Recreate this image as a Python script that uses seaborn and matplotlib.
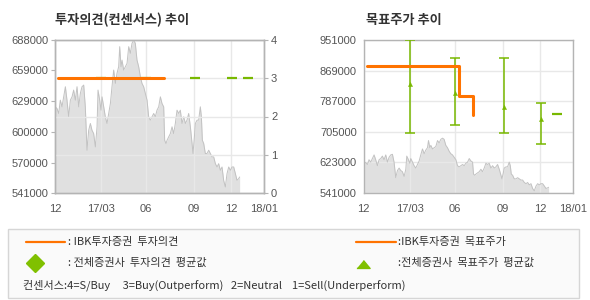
import numpy as np
import matplotlib
matplotlib.use("Agg")
import matplotlib.pyplot as plt
import seaborn as sns
from matplotlib.patches import Rectangle
from matplotlib.lines import Line2D

# ---------------- data ----------------
price_idx = [0.0, 2.5, 4.6, 6.6, 8.7, 10.8, 12.9, 14.9, 17.0, 19.1, 21.2, 23.2, 25.3, 27.4, 29.5,
             31.5, 33.6, 35.7, 37.7, 39.0, 39.8, 41.9, 44.0, 46.0, 48.1, 50.2, 52.3, 53.5, 55.6,
             57.2, 58.5, 60.6, 62.6, 64.7, 66.8, 68.9, 70.9, 73.0, 75.1, 77.1, 79.2, 80.5, 82.1,
             83.4, 85.4, 87.5, 89.6, 91.7, 93.7, 95.8, 97.9, 99.9, 102.0, 104.1, 106.2, 108.2,
             110.3, 112.4, 114.5, 116.5, 118.6, 120.7, 122.8, 124.8, 126.9, 129.0, 131.1, 133.1,
             135.2, 136.4, 138.1, 139.4, 141.4, 143.5, 145.6, 147.6, 149.7, 151.8, 153.9, 155.9,
             158.0, 160.1, 162.2, 164.2, 166.3, 168.4, 170.5, 171.7, 173.4, 174.6, 176.7, 178.7,
             180.8, 182.1, 183.3, 185.0, 187.0, 189.1, 191.2, 193.3, 195.3, 197.4, 199.5, 201.6,
             203.6, 205.7, 207.8, 209.8, 211.9, 214.0, 216.1, 218.1, 220.2, 222.3, 224.4, 226.4,
             228.5, 229.7]
price = [623800, 622200, 617400, 630200, 623800, 633400, 643100, 630200, 614200, 630200, 633400,
         639900, 630200, 643100, 623800, 636600, 643100, 644700, 623800, 598100, 582100, 601300,
         607800, 601300, 598100, 585300, 604600, 639900, 630200, 620600, 633400, 623800, 614200,
         607800, 617400, 627000, 643100, 659100, 646300, 655900, 662300, 681600, 662300, 668700,
         659100, 662300, 665500, 681600, 675200, 684800, 688000, 684800, 668700, 662300, 652700,
         646300, 643100, 636600, 630200, 614200, 611000, 614200, 617400, 614200, 620600, 623800,
         633400, 627000, 623800, 591700, 588500, 591700, 594900, 598100, 604600, 598100, 607800,
         620600, 617400, 620600, 607800, 614200, 607800, 611000, 617400, 604600, 588500, 578900,
         594900, 607800, 611000, 611000, 623800, 614200, 591700, 588500, 578900, 578900, 582100,
         578900, 575700, 575700, 569200, 566000, 569200, 562800, 566000, 553200, 546800, 559600,
         566000, 562800, 566000, 566000, 559600, 553200, 554800, 556400]

ibk_rating_idx = [4, 135]
ibk_rating = [3, 3]
ibk_target_idx = [4, 119, 136]
ibk_target = [880000, 800000, 750000]

cons_idx = [57, 113, 174, 220, 240]
cons_rating = [3, 3, 3, 3, 3]
cons_target_mean = [832500, 808000, 771000, 738000, 753000]
cons_target_high = [951000, 903000, 903000, 782500, np.nan]
cons_target_low = [703000, 724000, 703000, 673000, np.nan]

x_tick_pos = [0, 57, 113, 173, 219, 260]
x_tick_labels = ["12", "17/03", "06", "09", "12", "18/01"]
left_price_ticks = [541000, 570000, 600000, 629000, 659000, 688000]
rating_ticks = [0, 1, 2, 3, 4]
right_price_ticks = [541000, 623000, 705000, 787000, 869000, 951000]

# ---------------- style ----------------
sns.set_theme(style="white")
plt.rcParams["font.family"] = ["Liberation Sans", "Noto Sans CJK KR"]
KR = ["Noto Sans CJK KR", "DejaVu Sans"]

ORANGE = "#ff7300"
GREEN = "#78b800"
FILL = "#e0e0e0"
PLINE = "#c2c2c2"
GRID = "#e8e8e8"
SPINE = "#b4b4b4"
TXT = "#555555"

W, H = 590, 300
fig = plt.figure(figsize=(5.9, 3.0), dpi=100)
fig.patch.set_facecolor("white")


def rect(x0, x1, y0, y1):
    return [x0 / W, 1 - y1 / H, (x1 - x0) / W, (y1 - y0) / H]


def style_axis(ax):
    for s in ax.spines.values():
        s.set_color(SPINE)
        s.set_linewidth(1.0)
    ax.tick_params(direction="out", length=3, width=0.8, color=SPINE,
                   labelsize=8, labelcolor=TXT, pad=2)


xs = np.array(price_idx)
ps = np.array(price)

# ---------------- left chart ----------------
ax1 = fig.add_axes(rect(55, 264, 40, 193))
ax1.set_axisbelow("line")
ax1.fill_between(xs, ps, 541000, color=FILL, lw=0, zorder=1)
sns.lineplot(x=xs, y=ps, ax=ax1, color=PLINE, lw=0.7, zorder=2)
ax1.set_xlim(0, 260)
ax1.set_ylim(541000, 688000)
ax1.set_yticks(left_price_ticks)
ax1.set_yticklabels([str(v) for v in left_price_ticks])
ax1.set_xticks(x_tick_pos)
ax1.set_xticklabels(x_tick_labels)
ax1.xaxis.grid(True, color=GRID, lw=1.0)
ax1.yaxis.grid(False)
ax1.set_xlabel("")
ax1.set_ylabel("")
style_axis(ax1)
ax1.tick_params(axis="x", pad=5)

ax2 = ax1.twinx()
ax2.set_ylim(0, 4)
ax2.set_yticks(rating_ticks)
ax2.yaxis.grid(True, color=GRID, lw=1.0)
ax2.set_axisbelow(True)
ax2.plot(cons_idx, cons_rating, color=GREEN, marker="_", markersize=6.8, mew=1.6,
         linestyle="none", zorder=3)
sns.lineplot(x=ibk_rating_idx, y=ibk_rating, ax=ax2, color=ORANGE, lw=2.2, zorder=4)
ax2.set_ylabel("")
style_axis(ax2)

# ---------------- right chart ----------------
ax3 = fig.add_axes(rect(363.7, 573, 40, 193))
ax3.set_axisbelow("line")
ax3.fill_between(xs, ps, 541000, color=FILL, lw=0, zorder=1)
sns.lineplot(x=xs, y=ps, ax=ax3, color=PLINE, lw=0.7, zorder=2)
ax3.set_xlim(0, 260)
ax3.set_ylim(541000, 951000)
ax3.set_yticks(right_price_ticks)
ax3.set_yticklabels([str(v) for v in right_price_ticks])
ax3.set_xticks(x_tick_pos)
ax3.set_xticklabels(x_tick_labels)
ax3.grid(True, color=GRID, lw=1.0)
ax3.set_xlabel("")
ax3.set_ylabel("")
style_axis(ax3)
ax3.tick_params(axis="x", pad=5)

ci = np.array(cons_idx, dtype=float)
cm = np.array(cons_target_mean, dtype=float)
ch = np.array(cons_target_high, dtype=float)
cl = np.array(cons_target_low, dtype=float)
has_rng = ~np.isnan(ch)
ax3.errorbar(ci[has_rng], cm[has_rng], yerr=[cm[has_rng] - cl[has_rng], ch[has_rng] - cm[has_rng]],
             fmt="none", ecolor=GREEN, elinewidth=1.1, capsize=3.4, capthick=1.1, zorder=3)
sns.scatterplot(x=ci[has_rng], y=cm[has_rng], ax=ax3, marker="^", s=9, color=GREEN,
                edgecolor=GREEN, linewidth=0.3, zorder=4)
ax3.plot(ci[~has_rng], cm[~has_rng], color=GREEN, marker="_", markersize=6.8, mew=1.6,
         linestyle="none", zorder=4)
sns.lineplot(x=ibk_target_idx, y=ibk_target, ax=ax3, color=ORANGE, lw=2.2,
             drawstyle="steps-post", zorder=5)
ax3.set_xlabel("")
ax3.set_ylabel("")

# ---------------- titles ----------------
fig.text(55 / W, 1 - 20 / H, "투자의견(컨센서스) 추이", family=KR, fontsize=9.5,
         fontweight="bold", color="#333333", va="center", ha="left")
fig.text(366 / W, 1 - 20 / H, "목표주가 추이", family=KR, fontsize=9.5,
         fontweight="bold", color="#333333", va="center", ha="left")

# ---------------- legend box ----------------
fig.add_artist(Rectangle((8 / W, 1 - 298 / H), (579 - 8) / W, (298 - 229) / H,
                         transform=fig.transFigure, facecolor="#fafafa",
                         edgecolor="#d6d6d6", lw=1.0))
fig.add_artist(Line2D([26 / W, 65 / W], [1 - 242 / H] * 2, transform=fig.transFigure,
                      color=ORANGE, lw=1.6))
fig.add_artist(Line2D([35 / W], [1 - 263 / H], transform=fig.transFigure, marker="D",
                      markersize=9.5, color="#80c000", ls="none"))
fig.add_artist(Line2D([356 / W, 396 / W], [1 - 242 / H] * 2, transform=fig.transFigure,
                      color=ORANGE, lw=1.6))
fig.add_artist(Line2D([363 / W], [1 - 264 / H], transform=fig.transFigure,
                      marker=[(-1, -0.6), (1, -0.6), (0, 0.6)], markersize=9.5,
                      color="#80c000", ls="none"))
lt = dict(family=KR, fontsize=8, color="#333333", va="center", ha="left")
fig.text(68 / W, 1 - 242 / H, ": IBK투자증권  투자의견", **lt)
fig.text(68 / W, 1 - 263 / H, ": 전체증권사  투자의견  평균값", **lt)
fig.text(398 / W, 1 - 242 / H, ":IBK투자증권  목표주가", **lt)
fig.text(398 / W, 1 - 263 / H, ":전체증권사  목표주가  평균값", **lt)
fig.text(23 / W, 1 - 285 / H,
         "컨센서스:4=S/Buy     3=Buy(Outperform)   2=Neutral    1=Sell(Underperform)", **lt)

fig.savefig("out.png", dpi=100, facecolor="white")
